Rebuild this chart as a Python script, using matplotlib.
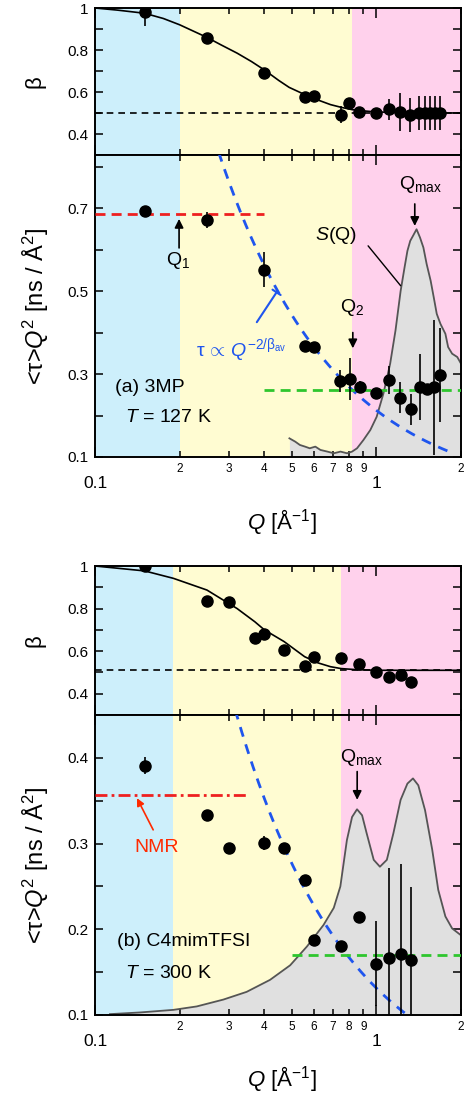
import numpy as np
import matplotlib.pyplot as plt
from matplotlib.ticker import FixedLocator, LogLocator, FuncFormatter, NullFormatter

plt.rcParams['font.family'] = ['Liberation Sans', 'DejaVu Sans']
plt.rcParams['mathtext.fontset'] = 'custom'
plt.rcParams['mathtext.rm'] = 'Liberation Sans'
plt.rcParams['mathtext.it'] = 'Liberation Sans:italic'
plt.rcParams['mathtext.bf'] = 'Liberation Sans:bold'

# ---------------- (a) 3MP, T = 127 K ----------------
qb_a = [0.15, 0.25, 0.40, 0.556, 0.60, 0.747, 0.80, 0.871, 1.0, 1.106, 1.217,
        1.32, 1.415, 1.486, 1.556, 1.62, 1.69]
beta_a = [0.982, 0.856, 0.692, 0.578, 0.58, 0.492, 0.546, 0.505, 0.499, 0.519,
          0.505, 0.49, 0.50, 0.50, 0.50, 0.50, 0.50]
beta_err_a = [0.07, 0, 0, 0, 0, 0.04, 0, 0, 0, 0.05, 0.09, 0.08, 0.08, 0.08,
              0.08, 0.08, 0.08]

qt_a = [0.15, 0.25, 0.40, 0.556, 0.60, 0.745, 0.805, 0.875, 1.0, 1.106, 1.217,
        1.33, 1.43, 1.51, 1.60, 1.69]
tau_a = [0.693, 0.671, 0.551, 0.368, 0.365, 0.283, 0.288, 0.269, 0.254, 0.285,
         0.243, 0.215, 0.269, 0.263, 0.268, 0.297]
tau_err_a = [0, 0.02, 0.042, 0, 0, 0.026, 0.05, 0.015, 0.01, 0.034, 0.038,
             0.038, 0.08, 0, 0.162, 0.113]

# beta fit curve
qfit_a = [0.1, 0.12, 0.15, 0.175, 0.2, 0.25, 0.28, 0.32, 0.36, 0.40, 0.45, 0.49,
          0.556, 0.62, 0.687, 0.75, 0.82, 0.9, 1.0, 1.3, 2.0]
bfit_a = [1.0, 0.99, 0.975, 0.95, 0.92, 0.86, 0.825, 0.785, 0.745, 0.705, 0.655,
          0.622, 0.588, 0.562, 0.54, 0.527, 0.516, 0.51, 0.505, 0.501, 0.50]

# S(Q) (scaled onto the tau axis)
qsq_a = [0.491, 0.515, 0.535, 0.558, 0.58, 0.607, 0.633, 0.67, 0.706, 0.746,
         0.787, 0.82, 0.854, 0.90, 0.952, 1.003, 1.06, 1.12, 1.17, 1.22, 1.26,
         1.29, 1.32, 1.35, 1.39, 1.43, 1.47, 1.51, 1.56, 1.60, 1.64, 1.69, 1.76,
         1.80, 1.86, 1.94, 2.0]
sq_a = [0.145, 0.137, 0.129, 0.125, 0.121, 0.125, 0.117, 0.113, 0.109, 0.113,
        0.109, 0.113, 0.121, 0.141, 0.165, 0.197, 0.253, 0.325, 0.405, 0.50,
        0.557, 0.597, 0.621, 0.633, 0.649, 0.629, 0.605, 0.565, 0.525, 0.485,
        0.445, 0.421, 0.397, 0.365, 0.349, 0.341, 0.325]

# ---------------- (b) C4mimTFSI, T = 300 K ----------------
qb_b = [0.15, 0.25, 0.30, 0.369, 0.40, 0.47, 0.556, 0.60, 0.75, 0.866, 1.0,
        1.106, 1.22, 1.33]
beta_b = [1.0, 0.837, 0.83, 0.663, 0.679, 0.606, 0.531, 0.571, 0.567, 0.54,
          0.50, 0.48, 0.488, 0.454]
beta_err_b = [0, 0, 0, 0, 0, 0, 0, 0, 0, 0, 0, 0.02, 0.02, 0.025]

qt_b = [0.15, 0.25, 0.30, 0.40, 0.47, 0.556, 0.60, 0.75, 0.866, 1.0, 1.106,
        1.22, 1.33]
tau_b = [0.391, 0.333, 0.295, 0.301, 0.295, 0.257, 0.188, 0.18, 0.214, 0.160,
         0.166, 0.171, 0.164]
tau_err_b = [0.01, 0, 0, 0.008, 0, 0, 0, 0, 0, 0.05, 0.105, 0.105, 0.085]

qfit_b = [0.1, 0.15, 0.19, 0.25, 0.32, 0.37, 0.40, 0.47, 0.556, 0.62, 0.687,
          0.75, 0.85, 1.0, 2.0]
bfit_b = [1.0, 0.977, 0.942, 0.887, 0.80, 0.738, 0.70, 0.645, 0.574, 0.545,
          0.527, 0.518, 0.513, 0.51, 0.51]

qsq_b = [0.113, 0.145, 0.19, 0.23, 0.286, 0.346, 0.419, 0.494, 0.567, 0.649,
         0.706, 0.745, 0.786, 0.82, 0.854, 0.89, 0.924, 0.979, 1.03, 1.09, 1.15,
         1.22, 1.29, 1.35, 1.41, 1.49, 1.58, 1.66, 1.76, 1.86, 2.0]
sq_b = [0.101, 0.103, 0.106, 0.110, 0.118, 0.127, 0.141, 0.158, 0.180, 0.205,
        0.225, 0.250, 0.304, 0.331, 0.340, 0.333, 0.312, 0.281, 0.273, 0.281,
        0.312, 0.351, 0.370, 0.376, 0.368, 0.339, 0.293, 0.246, 0.215, 0.201,
        0.193]

# region boundaries, beta_av, plateau levels, power law tau*Q^2 = A*Q^-p
regions_a = [0.1, 0.2, 0.82, 2.0]
regions_b = [0.1, 0.19, 0.75, 2.0]
beta_av_a, beta_av_b = 0.50, 0.51
red_a, green_a = 0.685, 0.262
nmr_b, green_b = 0.357, 0.170
pow_a = (0.2125, 1.06)
pow_b = (0.1314, 1.077)

BG = ['#cdeffb', '#fffcd2', '#ffd1ec']
BLUE = '#1f55ee'
RED = '#ee2020'
GREEN = '#2ec62e'

fig = plt.figure(figsize=(4.7, 10.96), dpi=100)


def pos(top, bot):
    return [95 / 470, 1 - bot / 1096, 366 / 470, (bot - top) / 1096]


ax_ba = fig.add_axes(pos(8, 155))
ax_ta = fig.add_axes(pos(155, 457))
ax_bb = fig.add_axes(pos(566, 715))
ax_tb = fig.add_axes(pos(715, 1015))


def minor_label(x, p):
    d = int(round(x / 10 ** np.floor(np.log10(x))))
    return str(d)


def style(ax, ymaj, ymin, bottom_labels):
    ax.set_xscale('log')
    ax.set_xlim(0.1, 2.0)
    ax.xaxis.set_major_locator(FixedLocator([0.1, 1.0]))
    ax.xaxis.set_minor_locator(LogLocator(base=10, subs=np.arange(2, 10)))
    ax.yaxis.set_major_locator(FixedLocator(ymaj))
    ax.yaxis.set_minor_locator(FixedLocator(ymin))
    ax.yaxis.set_major_formatter(FuncFormatter(lambda v, p: '%g' % v))
    ax.tick_params(which='both', direction='in', top=True, right=True, width=1.1)
    ax.tick_params(axis='x', which='major', length=7)
    ax.tick_params(axis='x', which='minor', length=4)
    ax.tick_params(axis='y', which='both', length=6, labelsize=11, pad=5)
    if bottom_labels:
        ax.xaxis.set_major_formatter(FuncFormatter(lambda v, p: '%g' % v))
        ax.xaxis.set_minor_formatter(FuncFormatter(minor_label))
        ax.tick_params(axis='x', which='major', labelsize=12.5, pad=14)
        ax.tick_params(axis='x', which='minor', labelsize=8.5, pad=4)
        ax.set_xlabel(r'$Q$ [Å$^{-1}$]', fontsize=16)
        ax.xaxis.set_label_coords(0.51, -0.165)
    else:
        ax.xaxis.set_major_formatter(NullFormatter())
        ax.xaxis.set_minor_formatter(NullFormatter())
    for s in ax.spines.values():
        s.set_linewidth(1.4)


def backgrounds(ax, bounds):
    for i in range(3):
        ax.axvspan(bounds[i], bounds[i + 1], color=BG[i], lw=0, zorder=0)


def beta_panel(ax, q, b, be, qf, bf, bav, bounds):
    backgrounds(ax, bounds)
    ax.axhline(bav, color='k', lw=1.2, dashes=(4, 3), zorder=2)
    ax.plot(qf, bf, color='k', lw=1.2, zorder=3)
    ax.errorbar(q, b, yerr=be, fmt='o', color='k', ms=8, elinewidth=1.2,
                capsize=0, zorder=5)
    ax.set_ylim(0.3, 1.0)
    style(ax, [0.4, 0.6, 0.8, 1.0], [0.5, 0.7, 0.9], False)
    ax.set_ylabel('β', fontsize=16)
    ax.yaxis.set_label_coords(-0.135, 0.5)


def tau_panel(ax, q, t, te, qs, s, bounds, power, q_end, ylim):
    backgrounds(ax, bounds)
    ax.fill_between(qs, ylim[0], s, color='#e0e0e0', lw=0, zorder=1)
    ax.plot(qs, s, color='#555555', lw=1.3, zorder=2)
    qq = np.geomspace(0.2, q_end, 200)
    ax.plot(qq, power[0] * qq ** (-power[1]), color=BLUE, lw=2,
            dashes=(3.6, 2.9), zorder=3)
    ax.errorbar(q, t, yerr=te, fmt='o', color='k', ms=8, elinewidth=1.2,
                capsize=0, zorder=5)
    ax.set_ylim(*ylim)
    ax.set_ylabel('<τ>$Q^2$ [ns / Å$^2$]', fontsize=17)
    ax.yaxis.set_label_coords(-0.12, 0.5)


# ---- panel (a)
beta_panel(ax_ba, qb_a, beta_a, beta_err_a, qfit_a, bfit_a, beta_av_a, regions_a)
tau_panel(ax_ta, qt_a, tau_a, tau_err_a, qsq_a, sq_a, regions_a, pow_a, 1.9,
          (0.1, 0.828))
style(ax_ta, [0.1, 0.3, 0.5, 0.7], [0.2, 0.4, 0.6, 0.8], True)
ax_ta.plot([0.1, 0.40], [red_a, red_a], color=RED, lw=2, dashes=(3.6, 2.2), zorder=4)
ax_ta.plot([0.40, 2.0], [green_a, green_a], color=GREEN, lw=2, dashes=(3.6, 2.2), zorder=4)

arrow = dict(arrowstyle='-|>', color='k', lw=1.2, mutation_scale=13, shrinkA=0, shrinkB=0)
ax_ta.text(1.43, 0.758, r'Q$_\mathrm{max}$', fontsize=14, ha='center', va='center')
ax_ta.annotate('', xy=(1.37, 0.657), xytext=(1.37, 0.71), arrowprops=arrow)
ax_ta.text(0.72, 0.633, r'$S$(Q)', fontsize=14, ha='center', va='center')
ax_ta.annotate('', xy=(1.22, 0.513), xytext=(0.935, 0.609),
               arrowprops=dict(arrowstyle='-', color='k', lw=1.0, shrinkA=0, shrinkB=0))
ax_ta.text(0.197, 0.573, r'Q$_1$', fontsize=14, ha='center', va='center')
ax_ta.annotate('', xy=(0.199, 0.674), xytext=(0.199, 0.604), arrowprops=arrow)
ax_ta.text(0.82, 0.46, r'Q$_2$', fontsize=14, ha='center', va='center')
ax_ta.annotate('', xy=(0.825, 0.362), xytext=(0.825, 0.40), arrowprops=arrow)
ax_ta.text(0.33, 0.357, r'τ$\,\propto\,Q^{-2/\mathrm{β}_\mathrm{av}}$', fontsize=14,
           color=BLUE, ha='center', va='center')
ax_ta.annotate('', xy=(0.442, 0.497), xytext=(0.376, 0.425),
               arrowprops=dict(arrowstyle='-[, widthB=0.35, lengthB=0', color=BLUE,
                               lw=1.5, shrinkA=0, shrinkB=0))
ax_ta.text(0.118, 0.268, '(a) 3MP', fontsize=14, ha='left', va='center')
ax_ta.text(0.128, 0.196, r'$T$ = 127 K', fontsize=14, ha='left', va='center')

# ---- panel (b)
beta_panel(ax_bb, qb_b, beta_b, beta_err_b, qfit_b, bfit_b, beta_av_b, regions_b)
tau_panel(ax_tb, qt_b, tau_b, tau_err_b, qsq_b, sq_b, regions_b, pow_b, 2.0,
          (0.1, 0.45))
style(ax_tb, [0.1, 0.2, 0.3, 0.4], [0.15, 0.25, 0.35], True)
ax_tb.plot([0.1, 0.35], [nmr_b, nmr_b], color=RED, lw=2,
           dashes=(4.3, 1.5, 1, 1.5), zorder=4)
ax_tb.plot([0.50, 2.0], [green_b, green_b], color=GREEN, lw=2, dashes=(3.6, 2.2), zorder=4)

ax_tb.text(0.884, 0.401, r'Q$_\mathrm{max}$', fontsize=14, ha='center', va='center')
ax_tb.annotate('', xy=(0.855, 0.351), xytext=(0.855, 0.384), arrowprops=arrow)
ax_tb.text(0.165, 0.296, 'NMR', fontsize=14, color='#ff2a00', ha='center', va='center')
ax_tb.annotate('', xy=(0.141, 0.353), xytext=(0.161, 0.316),
               arrowprops=dict(arrowstyle='-|>', color='#ff2a00', lw=1.2,
                               mutation_scale=11, shrinkA=0, shrinkB=0))
ax_tb.text(0.1197, 0.186, '(b) C4mimTFSI', fontsize=14, ha='left', va='center')
ax_tb.text(0.128, 0.149, r'$T$ = 300 K', fontsize=14, ha='left', va='center')

fig.savefig('out.png', dpi=100)
